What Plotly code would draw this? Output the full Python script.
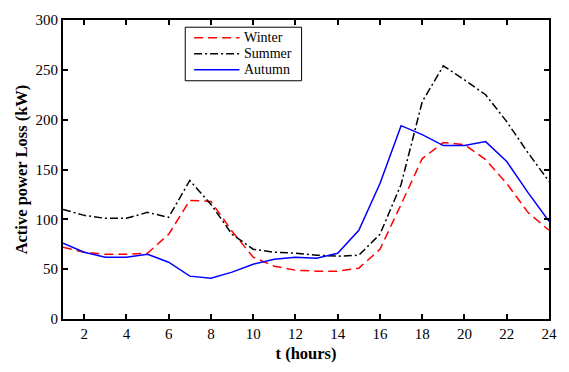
import plotly.graph_objects as go

hours = list(range(1, 25))
winter = [72, 67, 65, 65, 66, 85, 119, 118, 88, 62, 53, 49, 48, 48, 51, 70, 115, 161, 177, 175, 160, 136, 107, 89]
summer = [110, 104, 101, 101, 107, 102, 139, 115, 85, 70, 67, 66, 64, 63, 64, 85, 135, 218, 254, 240, 225, 198, 167, 138]
autumn = [76, 67, 62, 62, 65, 57, 43, 41, 47, 55, 60, 62, 61, 66, 89, 136, 194, 185, 174, 174, 178, 158, 127, 98]

series_names = ["Winter", "Summer", "Autumn"]
series_colors = ["#ff0000", "#000000", "#0000ff"]
series_dashes = ["9px,5px", "8px,3px,2px,3px", "solid"]

x_ticks = list(range(2, 25, 2))
y_ticks = list(range(0, 301, 50))

font = "Liberation Serif, Times New Roman, serif"

# plot-area geometry in pixels (for placing the hand-made legend box)
W, H = 569, 372
ML, MR, MT, MB = 63, 13, 15, 47
PW, PH = W - ML - MR, H - MT - MB


def px2paper_x(px):
    return (px - ML) / PW


def px2paper_y(py):
    return (H - MB - py) / PH


fig = go.Figure()
for name, vals, col, dash in zip(series_names, [winter, summer, autumn], series_colors, series_dashes):
    fig.add_trace(go.Scatter(x=hours, y=vals, mode="lines", name=name, showlegend=False,
                             line=dict(color=col, width=1.5, dash=dash)))

axis_common = dict(showgrid=False, zeroline=False, showline=True, linecolor="black",
                   linewidth=2, mirror="ticks", ticks="inside", ticklen=5,
                   tickwidth=1.5, tickcolor="black",
                   tickfont=dict(family=font, size=15, color="black"))

fig.update_xaxes(range=[1, 24], tickvals=x_ticks,
                 title=dict(text="<b>t (hours)</b>", font=dict(family=font, size=16.5, color="black"), standoff=6),
                 **axis_common)
fig.update_yaxes(range=[0, 300], tickvals=y_ticks,
                 title=dict(text="<b>Active power Loss (kW)</b>", font=dict(family=font, size=16.5, color="black"), standoff=4),
                 **axis_common)

# legend box drawn by hand (compact like the reference)
shapes = [dict(type="rect", xref="paper", yref="paper",
               x0=px2paper_x(187), x1=px2paper_x(305), y0=px2paper_y(78), y1=px2paper_y(22.5),
               line=dict(color="black", width=1), fillcolor="white", layer="above")]
annotations = []
rows_y = [33.5, 50, 66.5]
for name, col, dash, ry in zip(series_names, series_colors, series_dashes, rows_y):
    shapes.append(dict(type="line", xref="paper", yref="paper",
                       x0=px2paper_x(196), x1=px2paper_x(242), y0=px2paper_y(ry), y1=px2paper_y(ry),
                       line=dict(color=col, width=1.5, dash=dash), layer="above"))
    annotations.append(dict(xref="paper", yref="paper", x=px2paper_x(245), y=px2paper_y(ry),
                            xanchor="left", yanchor="middle", text=name, showarrow=False,
                            font=dict(family=font, size=14, color="black")))

fig.update_layout(
    width=W, height=H, autosize=False,
    margin=dict(l=ML, r=MR, t=MT, b=MB),
    plot_bgcolor="white", paper_bgcolor="white",
    font=dict(family=font, color="black"),
    shapes=shapes, annotations=annotations,
    showlegend=False,
)

fig.write_html("out.html",
               config={"responsive": False, "displayModeBar": False},
               post_script="document.body.style.margin='0px';document.body.style.overflow='hidden';")
